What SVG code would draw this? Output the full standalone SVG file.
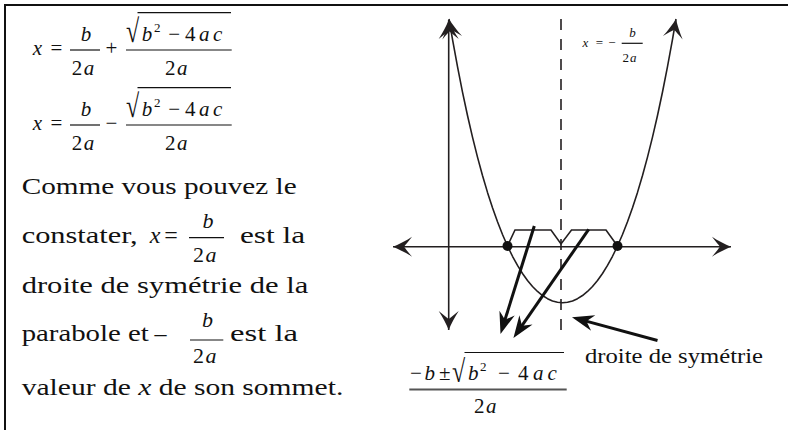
<svg xmlns="http://www.w3.org/2000/svg" width="788" height="430" viewBox="0 0 788 430" font-family="'Liberation Serif', 'Times New Roman', serif">
<style>
text{font-family:'Liberation Serif','Times New Roman',serif;fill:#111}
.eq{font-size:21px}
.it{font-style:italic}
.body{font-size:24px}
.sup{font-size:13px}
.sm{font-size:13px}
.c{text-anchor:middle}
.rad{font-size:24px}
.bar{stroke:#111;stroke-width:1.2}
.ln{stroke:#231f20;fill:none;stroke-width:1.6}
.bold{stroke:#111;stroke-width:3;fill:none}
</style>
<defs>
<marker id="ah" markerUnits="userSpaceOnUse" markerWidth="24" markerHeight="24" viewBox="-22 -12 24 24" refX="0" refY="0" orient="auto-start-reverse">
<path d="M0,0 C-6,-2.5 -13,-6 -19,-10 C-15,-5 -12.5,-2 -11,0 C-12.5,2 -15,5 -19,10 C-13,6 -6,2.5 0,0 Z" fill="#231f20"/>
</marker>
<marker id="bh" markerUnits="userSpaceOnUse" markerWidth="30" markerHeight="20" viewBox="-24 -10 30 20" refX="-8" refY="0" orient="auto">
<path d="M0,0 L-22,-8 L-15,0 L-22,8 Z" fill="#111"/>
</marker>
</defs>

<g id="border">
<line x1="4" y1="5" x2="788" y2="5" stroke="#111" stroke-width="2"/>
<line x1="5" y1="4" x2="5" y2="430" stroke="#111" stroke-width="2"/>
</g>

<g id="equation-plus" class="eq">
<text class="it c" x="37.5" y="55">x</text>
<text class="c" x="56.5" y="55">=</text>
<line class="bar" x1="70" y1="50" x2="100" y2="50"/>
<text class="it c" x="86" y="40.7">b</text>
<text x="71.7" y="75">2<tspan class="it" dx="1.5">a</tspan></text>
<text class="c" x="111.5" y="55">+</text>
<line class="bar" x1="126" y1="50" x2="231.7" y2="50"/>
<text class="rad" x="126" y="42" transform="translate(126 42) scale(1 1.35) translate(-126 -42)">√</text>
<line class="bar" x1="137.5" y1="12.7" x2="231" y2="12.7"/>
<text y="40.7"><tspan class="it" x="141.7">b</tspan><tspan class="sup" x="154" y="32">2</tspan><tspan x="168.3" y="40.7">−</tspan><tspan x="185">4</tspan><tspan class="it" x="199">a</tspan><tspan class="it" x="213">c</tspan></text>
<text x="165" y="75">2<tspan class="it" dx="1.5">a</tspan></text>
</g>

<g id="equation-minus" class="eq">
<text class="it c" x="37.5" y="130">x</text>
<text class="c" x="56.5" y="130">=</text>
<line class="bar" x1="70" y1="125" x2="100" y2="125"/>
<text class="it c" x="86" y="115.7">b</text>
<text x="71.7" y="150">2<tspan class="it" dx="1.5">a</tspan></text>
<text class="c" x="111.4" y="130">−</text>
<line class="bar" x1="126" y1="125" x2="231.7" y2="125"/>
<text class="rad" x="126" y="117" transform="translate(126 117) scale(1 1.35) translate(-126 -117)">√</text>
<line class="bar" x1="137.5" y1="87.7" x2="231" y2="87.7"/>
<text y="115.7"><tspan class="it" x="141.7">b</tspan><tspan class="sup" x="154" y="107">2</tspan><tspan x="168.3" y="115.7">−</tspan><tspan x="185">4</tspan><tspan class="it" x="199">a</tspan><tspan class="it" x="213">c</tspan></text>
<text x="165" y="150">2<tspan class="it" dx="1.5">a</tspan></text>
</g>

<g id="explanation">
<text class="body" x="21.7" y="194" textLength="275" lengthAdjust="spacingAndGlyphs">Comme vous pouvez le</text>
<text class="body" x="21.7" y="242.5" textLength="116" lengthAdjust="spacingAndGlyphs">constater,</text>
<text class="body it c" x="155" y="242.5">x</text>
<text class="body c" x="171" y="242.5">=</text>
<line class="bar" x1="189" y1="237.7" x2="224" y2="237.7" stroke-width="1.8"/>
<text class="eq it c" x="208" y="228.3" style="font-size:22px">b</text>
<text class="eq" x="193" y="261.7" style="font-size:22px">2<tspan class="it" dx="1.5">a</tspan></text>
<text class="body" x="240" y="242.5" textLength="65" lengthAdjust="spacingAndGlyphs">est la</text>
<text class="body" x="21.7" y="293" textLength="286.6" lengthAdjust="spacingAndGlyphs">droite de symétrie de la</text>
<text class="body" x="21.7" y="341" textLength="127" lengthAdjust="spacingAndGlyphs">parabole et</text>
<text class="body c" x="160.5" y="341">–</text>
<line class="bar" x1="190" y1="340" x2="223.3" y2="340" stroke-width="1.8"/>
<text class="eq it c" x="207.5" y="326.7" style="font-size:22px">b</text>
<text class="eq" x="193" y="362.7" style="font-size:22px">2<tspan class="it" dx="1.5">a</tspan></text>
<text class="body" x="230" y="341" textLength="68" lengthAdjust="spacingAndGlyphs">est la</text>
<text class="body" x="21.7" y="395" textLength="321.6" lengthAdjust="spacingAndGlyphs">valeur de <tspan class="it">x</tspan> de son sommet.</text>
</g>

<g id="graph">
<line class="ln" x1="448.7" y1="20" x2="448.7" y2="330" marker-start="url(#ah)" marker-end="url(#ah)"/>
<line class="ln" x1="393" y1="246.7" x2="731" y2="246.7" marker-start="url(#ah)" marker-end="url(#ah)"/>
<line class="ln" x1="561" y1="19" x2="561" y2="330" stroke-dasharray="11 9"/>
<path id="parabola" class="ln" stroke-linejoin="round" marker-start="url(#ah)" marker-end="url(#ah)" d="M449,19 L452.5,39.34 L457.5,66.68 L462.5,92.03 L467.5,115.5 L472.5,137.18 L477.5,157.16 L482.5,175.53 L487.5,192.38 L492.5,207.78 L497.5,221.81 L502.5,234.53 L507.5,246 L512.5,256.27 L517.5,265.42 L522.5,273.47 L527.5,280.47 L532.5,286.46 L537.5,291.48 L542.5,295.55 L547.5,298.69 L552.5,300.92 L557.5,302.26 L562.5,302.7 L567.5,302.26 L572.5,300.92 L577.5,298.69 L582.5,295.55 L587.5,291.48 L592.5,286.46 L597.5,280.47 L602.5,273.47 L607.5,265.42 L612.5,256.27 L617.5,246 L622.5,234.53 L627.5,221.81 L632.5,207.78 L637.5,192.38 L642.5,175.53 L647.5,157.16 L652.5,137.18 L657.5,115.5 L662.5,92.03 L667.5,66.68 L672.5,39.34 L676,19"/>
<polyline class="ln" stroke-linejoin="miter" points="507.5,246 515,230 551,230 561,244 571.5,230 606,230 617.5,246"/>
<circle cx="507.5" cy="246" r="5" fill="#111"/>
<circle cx="617.5" cy="246" r="5" fill="#111"/>
</g>

<g id="label-axis" class="sm">
<text class="it c" x="585.3" y="47">x</text>
<text class="c" x="599.5" y="47">=</text>
<text class="c" x="612" y="47">−</text>
<line class="bar" x1="621.7" y1="43.3" x2="642.7" y2="43.3" stroke-width="0.9"/>
<text class="it c" x="632.5" y="37.3">b</text>
<text x="622.5" y="62">2<tspan class="it" dx="1">a</tspan></text>
</g>

<g id="label-roots" class="eq">
<text y="380"><tspan x="410">−</tspan><tspan class="it" x="424.5">b</tspan><tspan x="439">±</tspan></text>
<text class="rad" x="452" y="382" transform="translate(452 382) scale(1 1.3) translate(-452 -382)">√</text>
<line class="bar" x1="464.5" y1="352.5" x2="564" y2="352.5"/>
<text y="380"><tspan class="it" x="468">b</tspan><tspan class="sup" x="480" y="371">2</tspan><tspan x="498" y="380">−</tspan><tspan x="518">4</tspan><tspan class="it" x="533">a</tspan><tspan class="it" x="547.5">c</tspan></text>
<line x1="409.3" y1="389.5" x2="566.7" y2="389.5" stroke="#555" stroke-width="2"/>
<text x="474" y="413.3">2<tspan class="it" dx="1.5">a</tspan></text>
</g>

<g id="label-symmetry">
<text x="585" y="363.3" style="font-size:21px" textLength="178" lengthAdjust="spacingAndGlyphs">droite de symétrie</text>
</g>

<g id="connectors">
<line class="bold" x1="534.3" y1="226" x2="502.9" y2="326.4" marker-end="url(#bh)"/>
<line class="bold" x1="588.7" y1="229.3" x2="518" y2="331.4" marker-end="url(#bh)"/>
<line class="bold" x1="657.5" y1="340.5" x2="579.7" y2="319.4" marker-end="url(#bh)"/>
</g>
</svg>
